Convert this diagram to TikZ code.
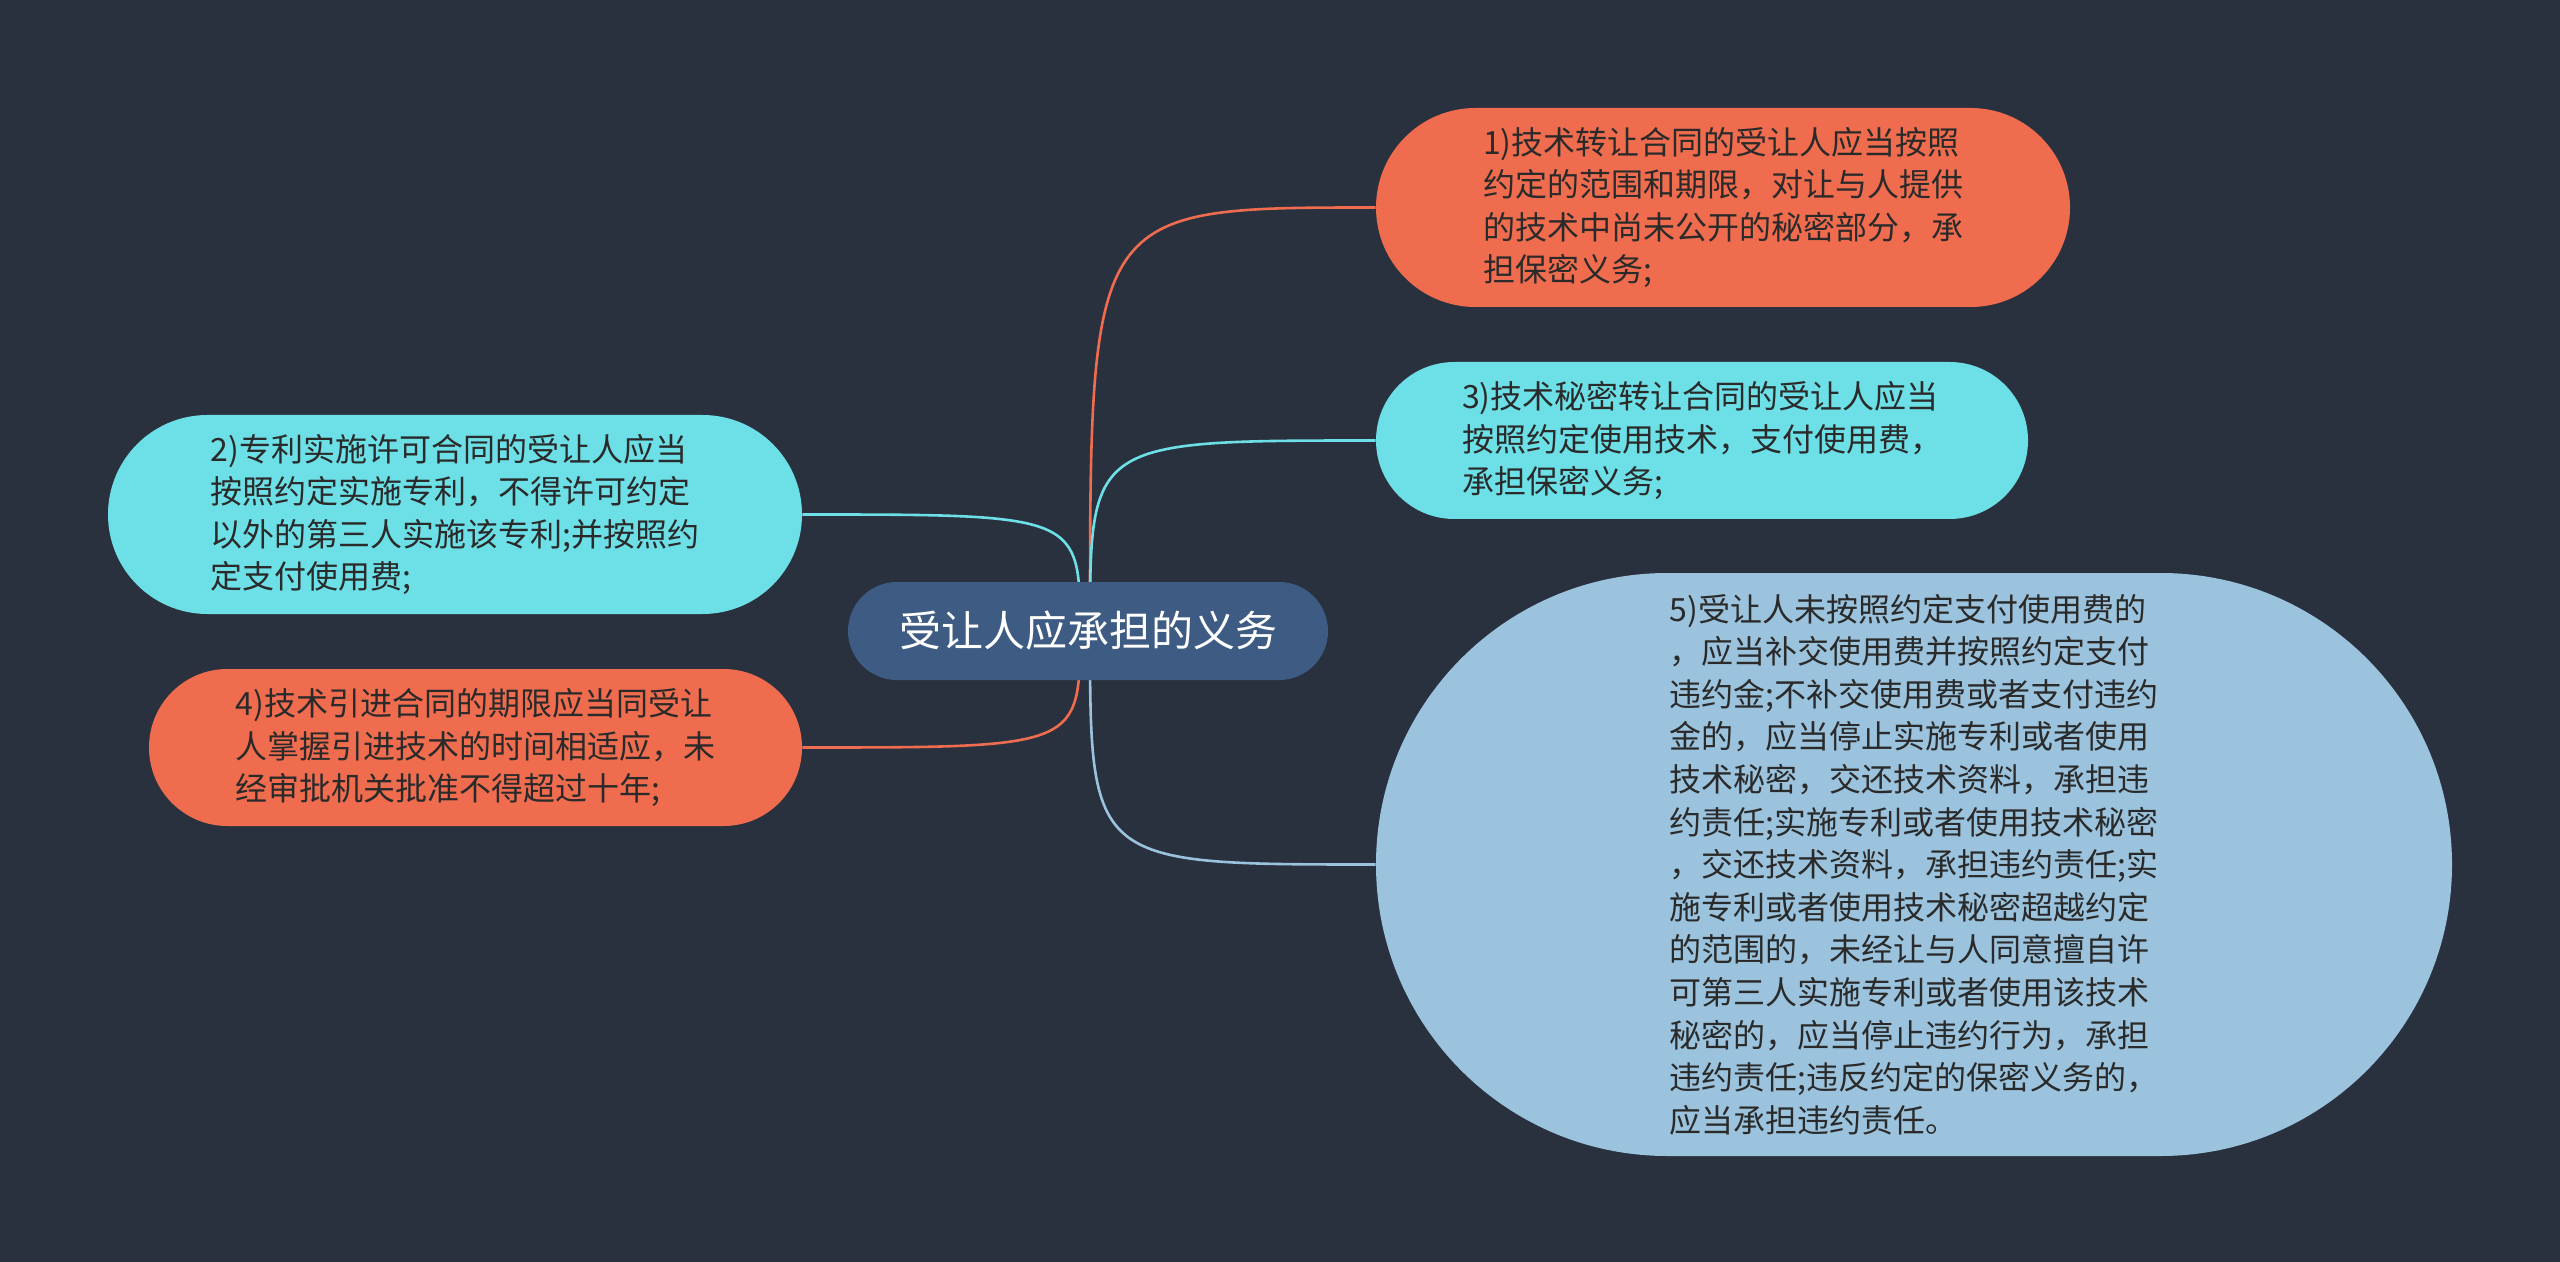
\documentclass[tikz,border=0pt]{standalone}
\usepackage{fontspec}
\setmainfont{Noto Sans CJK SC}
\usetikzlibrary{backgrounds}
\definecolor{bg}{HTML}{29313F}
\definecolor{coral}{HTML}{EF6C4F}
\definecolor{cyanc}{HTML}{6DDFE6}
\definecolor{pale}{HTML}{9BC3DD}
\definecolor{rootc}{HTML}{3E5B83}
\definecolor{txt}{HTML}{2A2A2A}
\tikzset{
  x=0.5pt, y=-0.5pt,
  leaf/.style={rectangle, inner sep=0pt, align=left, text=txt,
    font=\fontsize{16pt}{21.3pt}\selectfont},
  link/.style={line width=1.3pt},
}
\begin{document}
\begin{tikzpicture}
\useasboundingbox (0,0) rectangle (2560,1262);
\node[rectangle, fill=rootc, rounded corners=24.5pt, minimum width=240pt, minimum height=49pt,
  text=white, font=\fontsize{21pt}{25pt}\selectfont, inner sep=0pt] (root) at (1088,631) {受让人应承担的义务};
\coordinate (oL) at ([xshift=-4pt]root.center);
\coordinate (oR) at ([xshift=1pt]root.center);
\node[leaf, fill=coral, rounded corners=49.7pt, minimum width=347pt, minimum height=99.5pt] (n1) at (1723,207.5)
  {1)技术转让合同的受让人应当按照\\约定的范围和期限，对让与人提供\\的技术中尚未公开的秘密部分，承\\担保密义务;};
\node[leaf, fill=cyanc, rounded corners=39.2pt, minimum width=326pt, minimum height=78.5pt] (n3) at (1702,440.5)
  {3)技术秘密转让合同的受让人应当\\按照约定使用技术，支付使用费，\\承担保密义务;};
\node[leaf, fill=cyanc, rounded corners=49.7pt, minimum width=347pt, minimum height=99.5pt] (n2) at (455,514.5)
  {2)专利实施许可合同的受让人应当\\按照约定实施专利，不得许可约定\\以外的第三人实施该专利;并按照约\\定支付使用费;};
\node[leaf, fill=coral, rounded corners=39.2pt, minimum width=326.5pt, minimum height=78.5pt] (n4) at (475.5,747.5)
  {4)技术引进合同的期限应当同受让\\人掌握引进技术的时间相适应，未\\经审批机关批准不得超过十年;};
\node[leaf, fill=pale, rounded corners=145.7pt, minimum width=538pt, minimum height=291.5pt] (n5) at (1914,864.5)
  {5)受让人未按照约定支付使用费的\\，应当补交使用费并按照约定支付\\违约金;不补交使用费或者支付违约\\金的，应当停止实施专利或者使用\\技术秘密，交还技术资料，承担违\\约责任;实施专利或者使用技术秘密\\，交还技术资料，承担违约责任;实\\施专利或者使用技术秘密超越约定\\的范围的，未经让与人同意擅自许\\可第三人实施专利或者使用该技术\\秘密的，应当停止违约行为，承担\\违约责任;违反约定的保密义务的，\\应当承担违约责任。};
\begin{scope}[on background layer]
  \fill[bg] (0,0) rectangle (2560,1262);
  \draw[link, coral] (oR) .. controls (oR |- n1.west) .. (n1.west);
  \draw[link, cyanc] (oR) .. controls (oR |- n3.west) .. (n3.west);
  \draw[link, cyanc] (oL) .. controls (oL |- n2.east) .. (n2.east);
  \draw[link, coral] (oL) .. controls (oL |- n4.east) .. (n4.east);
  \draw[link, pale] (oR) .. controls (oR |- n5.west) .. (n5.west);
\end{scope}
\end{tikzpicture}
\end{document}
